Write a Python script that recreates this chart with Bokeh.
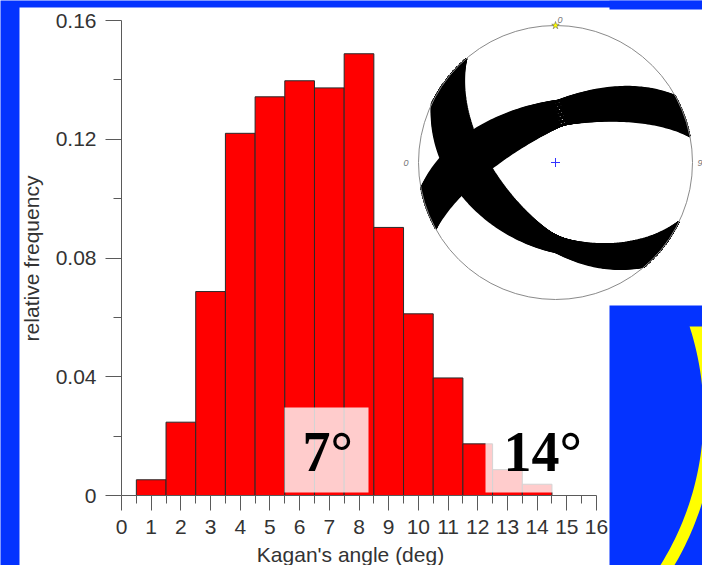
import numpy as np
from bokeh.plotting import figure
from bokeh.models import Range1d, LinearAxis, FixedTicker
from bokeh.core.properties import value
from bokeh.embed import file_html
from bokeh.resources import INLINE

# ---------------- data ----------------
angle_bins = [1, 2, 3, 4, 5, 6, 7, 8, 9, 10, 11, 12, 13, 14]
rel_freq = [0.0053, 0.0247, 0.0687, 0.1220, 0.1343, 0.1397, 0.1373, 0.1488,
            0.0903, 0.0612, 0.0396, 0.0174, 0.0087, 0.0038]
x_ticks = list(range(0, 17))
x_minor = [i + 0.5 for i in range(16)]
x_tick_labels = [str(t) for t in x_ticks]
y_ticks = [0, 0.04, 0.08, 0.12, 0.16]
y_minor = [0.02, 0.06, 0.10, 0.14]
y_tick_labels = ["0", "0.04", "0.08", "0.12", "0.16"]
x_title = "Kagan's angle (deg)"
y_title = "relative frequency"
annot_labels = ["7°", "14°"]
# focal-mechanism solution families (strike, right-hand rule; dip; dip scatter), deg
band_a_strike = [115.6, 139.4]
band_a_dip = [42.7, 52.0]
band_a_scatter = 5.0
band_b_strike = [241.0, 259.0]
band_b_dip = [64.5, 61.0]
band_b_scatter = 7.5
net_labels = ["0", "90", "0"]

# ---------------- layout ----------------
W, H = 702, 565
X0, X16 = 121, 596
Y0, Y16 = 495, 20
kx = (X16 - X0) / 16.0
ky = (Y0 - Y16) / 0.16
BLUE = "#0433FF"
FS = 21

p = figure(width=W, height=H,
           x_range=Range1d(-X0 / kx, (W - X0) / kx),
           y_range=Range1d(-(H - Y0) / ky, Y0 / ky),
           output_backend="svg", toolbar_location=None, title=None,
           x_axis_location=None, y_axis_location=None,
           min_border_left=0, min_border_right=0, min_border_top=0, min_border_bottom=0,
           background_fill_color=BLUE, border_fill_color=BLUE, outline_line_color=None)
p.xgrid.visible = False
p.ygrid.visible = False
p.extra_x_ranges = {"px": Range1d(0, W)}
p.extra_y_ranges = {"px": Range1d(H, 0)}
PX = dict(x_range_name="px", y_range_name="px")

# slide panels
p.quad(left=[19], right=[W], top=[7], bottom=[H], fill_color="white", line_color=None, **PX)
p.quad(left=[609], right=[W], top=[0], bottom=[9], fill_color=BLUE, line_color=None, **PX)
p.quad(left=[609], right=[W], top=[305], bottom=[H], fill_color=BLUE, line_color=None, **PX)

# yellow arc decoration
acx, acy, r_in, r_out, ycut = 418, 414, 285, 297, 326
t_in = np.linspace(np.arcsin((ycut - acy) / r_in), 0.75, 80)
t_out = np.linspace(0.75, np.arcsin((ycut - acy) / r_out), 80)
ax_ = np.concatenate([acx + r_in * np.cos(t_in), acx + r_out * np.cos(t_out)])
ay_ = np.concatenate([acy + r_in * np.sin(t_in), acy + r_out * np.sin(t_out)])
p.patch(x=ax_, y=ay_, fill_color="#FFFF00", line_color=None, **PX)

# histogram bars
p.vbar(x=angle_bins, top=rel_freq, bottom=0, width=1.0, fill_color="#FF0000",
       line_color="#2a2a2a", line_width=1)

# translucent label boxes
p.quad(left=[284, 485], right=[368, 578], top=[407, 425], bottom=[492, 492],
       fill_color="white", fill_alpha=0.8, line_color=None, **PX)
BIG = 56
p.text(x=[302, 503], y=[472 - 0.375 * BIG] * 2, text=annot_labels,
       text_font=value("Liberation Serif"), text_font_style="bold",
       text_font_size=value(f"{BIG}px"), text_color="black",
       text_align="left", text_baseline="alphabetic", **PX)

# ---------------- stereonet inset ----------------
CX, CY, R = 555, 162, 137


def great_circle(strike, dip, n=121):
    s, d = np.radians(strike), np.radians(dip)
    b = np.linspace(0, np.pi, n)
    sh = np.array([np.sin(s), np.cos(s), 0.0])
    dd = np.array([np.sin(s + np.pi / 2) * np.cos(d), np.cos(s + np.pi / 2) * np.cos(d), -np.sin(d)])
    v = np.outer(np.cos(b), sh) + np.outer(np.sin(b), dd)
    trend = np.arctan2(v[:, 0], v[:, 1])
    plunge = np.arcsin(np.clip(-v[:, 2], -1, 1))
    r = np.sqrt(2) * np.sin((np.pi / 2 - plunge) / 2)
    return CX + R * r * np.sin(trend), CY - R * r * np.cos(trend)


xs, ys = [], []
for (s_rng, d_rng, sc) in [(band_a_strike, band_a_dip, band_a_scatter),
                           (band_b_strike, band_b_dip, band_b_scatter)]:
    for t in np.linspace(0, 1, 30):
        s = s_rng[0] + t * (s_rng[1] - s_rng[0])
        d0 = d_rng[0] + t * (d_rng[1] - d_rng[0])
        for off in np.linspace(-sc, sc, 8):
            gx, gy = great_circle(s, min(d0 + off, 89.5))
            xs.append(gx)
            ys.append(gy)
p.multi_line(xs=xs, ys=ys, line_color="black", line_width=2, **PX)

p.circle(x=[CX], y=[CY], radius=R, fill_color=None, line_color="#8a8a8a", line_width=1, **PX)
p.scatter(x=[CX], y=[CY], marker="cross", size=9, line_color="#3333ff", line_width=1, **PX)
p.scatter(x=[CX], y=[CY - R], marker="star", size=8, fill_color="#FFFF00",
          line_color="#555555", line_width=0.5, **PX)
p.text(x=[CX + 2, CX + R + 5, CX - R - 15], y=[CY - R - 6, CY, CY], text=net_labels,
       text_font=value("Liberation Sans"), text_font_style="italic",
       text_font_size=value("9px"), text_color="#777777",
       text_align="left", text_baseline="middle", **PX)

# ---------------- axes ----------------
AX_COL = "#5a5a5a"
LBL_COL = "#333333"
xaxis = LinearAxis(fixed_location=0, bounds=(0, 16),
                   ticker=FixedTicker(ticks=x_ticks, minor_ticks=x_minor),
                   major_label_overrides={t: l for t, l in zip(x_ticks, x_tick_labels)},
                   axis_line_color=AX_COL, major_tick_line_color=AX_COL, minor_tick_line_color=AX_COL,
                   major_tick_in=0, major_tick_out=15, minor_tick_in=0, minor_tick_out=8,
                   major_label_standoff=9,
                   major_label_text_font="Liberation Sans", major_label_text_font_size=f"{FS}px",
                   major_label_text_color=LBL_COL)
yaxis = LinearAxis(fixed_location=0, bounds=(0, 0.16),
                   ticker=FixedTicker(ticks=y_ticks, minor_ticks=y_minor),
                   major_label_overrides={t: l for t, l in zip(y_ticks, y_tick_labels)},
                   axis_line_color=AX_COL, major_tick_line_color=AX_COL, minor_tick_line_color=AX_COL,
                   major_tick_in=0, major_tick_out=16, minor_tick_in=0, minor_tick_out=8,
                   major_label_standoff=9,
                   major_label_text_font="Liberation Sans", major_label_text_font_size=f"{FS}px",
                   major_label_text_color=LBL_COL)
p.add_layout(xaxis, "below")
p.add_layout(yaxis, "left")

# axis titles
p.text(x=[350], y=[562 - 0.375 * FS], text=[x_title], text_font=value("Liberation Sans"),
       text_font_size=value(f"{FS}px"), text_color=LBL_COL,
       text_align="center", text_baseline="alphabetic", **PX)
p.text(x=[38.5 - 0.375 * FS], y=[258], text=[y_title], text_font=value("Liberation Sans"),
       text_font_size=value(f"{FS}px"), text_color=LBL_COL, angle=np.pi / 2,
       text_align="center", text_baseline="alphabetic", **PX)

open("out.html", "w").write(file_html(p, INLINE))
